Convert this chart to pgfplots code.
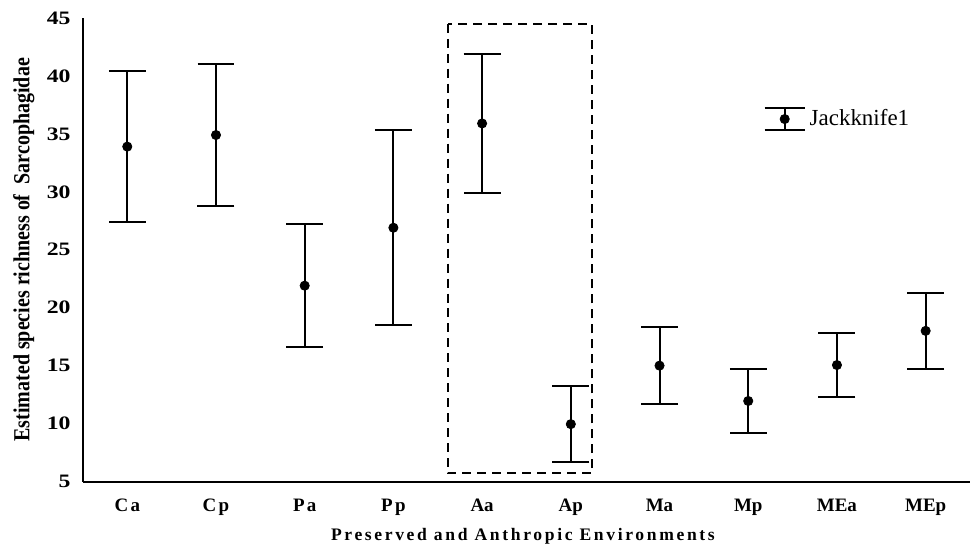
\documentclass[border=0pt]{standalone}
\usepackage{pgfplots}
\pgfplotsset{compat=1.18}
\usepackage{fontspec}
\setmainfont{Liberation Serif}
\newfontfamily\tickfont{Liberation Serif}[FakeStretch=1.25]
\newfontfamily\ylabfont{Liberation Serif}[FakeStretch=0.87]
\newfontfamily\spacedfont{Liberation Serif}[LetterSpace=15]
\newfontfamily\catfont{Liberation Serif}[LetterSpace=12]
\begin{document}
\begin{tikzpicture}[x=1pt,y=1pt]
\path (0,0) rectangle (485.5,273.5);
\begin{axis}[
  at={(41.5pt,32.5pt)}, anchor=south west,
  scale only axis, width=444pt, height=232pt,
  xmin=0, xmax=10, ymin=5, ymax=45,
  axis x line=bottom, axis y line=left,
  axis line style={-, line width=1pt, black},
  major tick length=0pt,
  xtick={0.5,1.5,2.5,3.5,4.5,5.5,6.5,7.5,8.5,9.5},
  xticklabels={{\catfont Ca},{\catfont Cp},{\catfont Pa},{\catfont Pp},Aa,Ap,Ma,Mp,MEa,MEp},
  ytick={5,10,...,45},
  /pgf/number format/assume math mode=true,
  yticklabel style={font=\tickfont\bfseries\fontsize{9.5}{10}\selectfont, anchor=east, inner sep=0pt, xshift=-6pt},
  xticklabel style={font=\bfseries\fontsize{9.5}{10}\selectfont, anchor=north, inner sep=0pt, yshift=-8.5pt},
  xlabel={Preserved and Anthropic Environments},
  xlabel style={font=\spacedfont\bfseries\fontsize{8.8}{10}\selectfont, at={(axis description cs:0.496,-0.101)}, anchor=north, inner sep=0pt},
  ylabel={Estimated species richness of \ Sarcophagidae},
  ylabel style={font=\ylabfont\bfseries\fontsize{11.5}{12}\selectfont, at={(axis description cs:-0.0665,0.5)}, rotate=0, anchor=center, inner sep=0pt},
  legend style={at={(axis description cs:0.767,0.782)}, anchor=west, draw=none, fill=none, inner sep=0pt, font=\fontsize{11.5}{12}\selectfont},
  legend cell align=left,
  clip=false,
]
\addplot[only marks, mark=*, mark size=2.3pt, black,
  legend image code/.code={
    \draw[line width=1pt] (0pt,-5.5pt)--(20pt,-5.5pt) (0pt,5.5pt)--(20pt,5.5pt) (10pt,-5.5pt)--(10pt,5.5pt);
    \fill (10pt,0pt) circle (2.3pt);},
  error bars/.cd, y dir=both, y explicit,
  error bar style={line width=1pt, black},
  error mark options={rotate=90, line width=1pt, mark size=9.25pt, black},
  ]
  coordinates {
  (0.5,33.9) +- (0,6.5)
  (1.5,34.9) +- (0,6.1)
  (2.5,21.9) +- (0,5.3)
  (3.5,26.9) +- (0,8.4)
  (4.5,35.9) +- (0,6.0)
  (5.5,9.95) +- (0,3.3)
  (6.5,15.0) +- (0,3.3)
  (7.5,11.95) +- (0,2.8)
  (8.5,15.05) +- (0,2.75)
  (9.5,18.0) +- (0,3.3)
  };
\addlegendentry{Jackknife1}
\draw[line width=1pt, dash pattern=on 4.5pt off 3pt] (axis cs:4.11,44.5) rectangle (axis cs:5.74,5.7);
\end{axis}
\end{tikzpicture}
\end{document}
